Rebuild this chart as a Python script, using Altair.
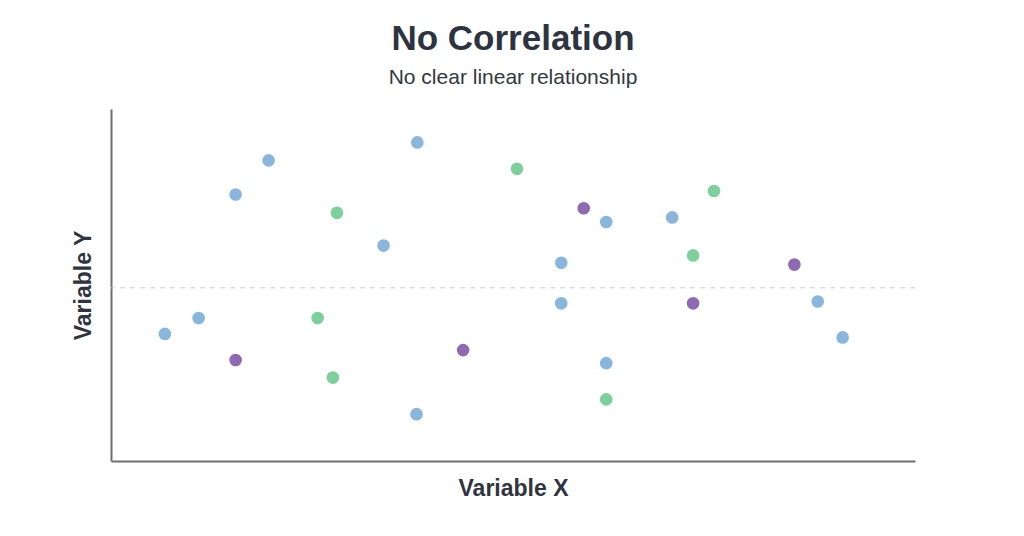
import altair as alt
import pandas as pd

x_values = [6.7, 10.9, 15.5, 15.5, 19.6, 25.7, 28.1, 27.6, 33.9, 38.1, 38.0, 43.8, 50.5,
            58.8, 61.6, 56.0, 56.0, 61.6, 61.6, 69.8, 75.0, 72.4, 72.4, 85.0, 87.9, 91.0]
y_values = [36.1, 40.6, 75.7, 28.7, 85.4, 40.6, 70.5, 23.7, 61.2, 90.5, 13.3, 31.5, 83.0,
            71.8, 67.9, 56.3, 44.8, 27.8, 17.5, 69.2, 76.7, 58.4, 44.8, 55.8, 45.3, 35.1]
groups = ["A", "A", "A", "C", "A", "B", "B", "B", "A", "A", "A", "C", "B",
          "C", "A", "A", "A", "A", "B", "A", "B", "B", "C", "C", "A", "A"]
reference_y = 49.2

group_names = ["A", "B", "C"]
group_colors = ["#8ab6dd", "#7dd09b", "#8f69b2"]

df = pd.DataFrame({"x": x_values, "y": y_values, "group": groups})
ref = pd.DataFrame({"y": [reference_y]})

x_scale = alt.Scale(domain=[0, 100], nice=False, zero=False)
y_scale = alt.Scale(domain=[0, 100], nice=False, zero=False)

axis_style = dict(labels=False, ticks=False, grid=False, domainColor="#6b6e72",
                  domainWidth=2, titleFontSize=23, titleFontWeight="bold",
                  titleColor="#2f3540", titleFont="Liberation Sans")

points = alt.Chart(df).mark_circle(size=160, opacity=1).encode(
    x=alt.X("x:Q", scale=x_scale, title="Variable X",
            axis=alt.Axis(titlePadding=16, **axis_style)),
    y=alt.Y("y:Q", scale=y_scale, title="Variable Y",
            axis=alt.Axis(titlePadding=16, **axis_style)),
    color=alt.Color("group:N", scale=alt.Scale(domain=group_names, range=group_colors), legend=None),
)

line = alt.Chart(ref).mark_rule(color="#c9cdd2", strokeDash=[5, 5], strokeWidth=1).encode(
    y=alt.Y("y:Q", scale=y_scale)
)

chart = alt.layer(line, points).properties(
    width=804,
    height=352,
    autosize="none",
    padding={"left": 103, "top": 101, "right": 101, "bottom": 67},
    view=alt.ViewBackground(stroke="transparent", strokeWidth=0),
    title=alt.TitleParams(
        text="No Correlation",
        subtitle="No clear linear relationship",
        font="Liberation Sans",
        fontSize=35,
        fontWeight="bold",
        color="#2d3340",
        subtitleFont="Liberation Sans",
        subtitleFontSize=21,
        subtitleColor="#333840",
        subtitlePadding=10,
        offset=21,
        anchor="middle",
    ),
).configure_view(stroke="transparent", strokeWidth=0).configure(background="white")

chart.save("out.html", embed_options={"renderer": "svg", "actions": False})
